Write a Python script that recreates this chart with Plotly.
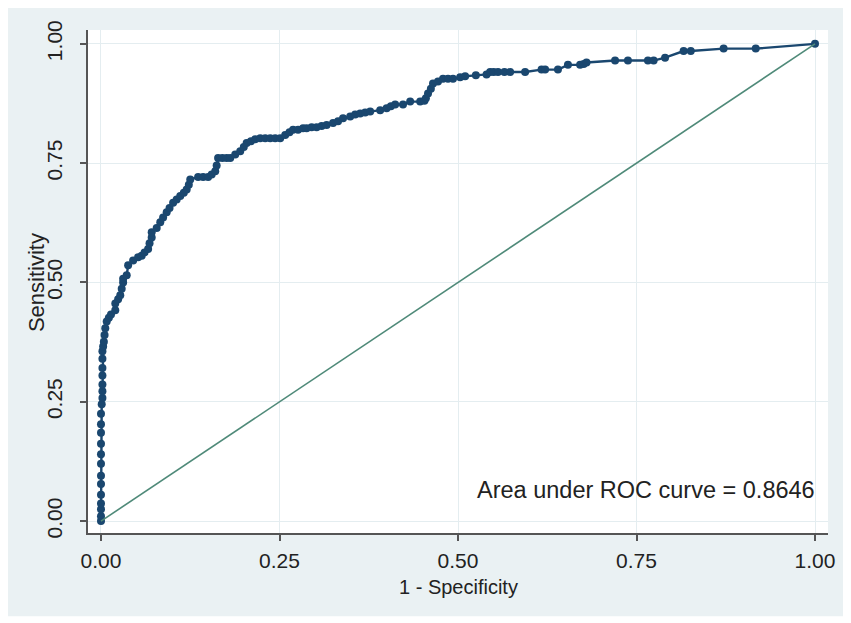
#!/usr/bin/env python3
"""ROC curve (Stata-style) redrawn with Plotly."""

import plotly.graph_objects as go

# -----------------------------------------------------------------------------
# Data
# -----------------------------------------------------------------------------

FPR = [
    0.000, 0.000, 0.000, 0.000, 0.000, 0.000, 0.000, 0.000, 0.000, 0.000,
    0.000, 0.000, 0.000, 0.001, 0.002, 0.002, 0.002, 0.002, 0.002, 0.002,
    0.002, 0.003, 0.004, 0.005, 0.006, 0.008, 0.011, 0.014, 0.020, 0.020,
    0.024, 0.027, 0.029, 0.031, 0.031, 0.036, 0.038, 0.045, 0.052, 0.057,
    0.061, 0.066, 0.068, 0.071, 0.071, 0.078, 0.083, 0.087, 0.092, 0.096,
    0.101, 0.106, 0.111, 0.116, 0.120, 0.123, 0.125, 0.136, 0.143, 0.150,
    0.155, 0.160, 0.162, 0.164, 0.170, 0.176, 0.181, 0.188, 0.195, 0.200,
    0.204, 0.210, 0.216, 0.223, 0.230, 0.237, 0.244, 0.251, 0.258, 0.264,
    0.269, 0.276, 0.283, 0.288, 0.295, 0.302, 0.309, 0.316, 0.325, 0.332,
    0.339, 0.349, 0.356, 0.363, 0.370, 0.377, 0.391, 0.400, 0.406, 0.412,
    0.423, 0.433, 0.447, 0.453, 0.455, 0.458, 0.462, 0.465, 0.472, 0.479,
    0.486, 0.493, 0.503, 0.510, 0.525, 0.540, 0.545, 0.550, 0.556, 0.565,
    0.573, 0.594, 0.617, 0.622, 0.640, 0.654, 0.671, 0.676, 0.680, 0.720,
    0.738, 0.766, 0.774, 0.790, 0.816, 0.826, 0.872, 0.917, 1.000,
]
TPR = [
    0.000, 0.010, 0.025, 0.037, 0.055, 0.078, 0.095, 0.120, 0.140, 0.162,
    0.185, 0.203, 0.225, 0.245, 0.258, 0.272, 0.286, 0.305, 0.321, 0.340,
    0.356, 0.366, 0.376, 0.390, 0.404, 0.418, 0.426, 0.433, 0.442, 0.456,
    0.465, 0.473, 0.487, 0.500, 0.508, 0.515, 0.536, 0.546, 0.553, 0.556,
    0.563, 0.570, 0.582, 0.594, 0.605, 0.614, 0.626, 0.636, 0.647, 0.656,
    0.667, 0.674, 0.681, 0.688, 0.695, 0.705, 0.716, 0.721, 0.721, 0.721,
    0.726, 0.733, 0.745, 0.761, 0.761, 0.761, 0.761, 0.768, 0.775, 0.784,
    0.792, 0.796, 0.800, 0.802, 0.802, 0.802, 0.802, 0.802, 0.809, 0.815,
    0.820, 0.820, 0.823, 0.823, 0.825, 0.825, 0.828, 0.830, 0.834, 0.838,
    0.844, 0.848, 0.852, 0.854, 0.856, 0.858, 0.861, 0.865, 0.869, 0.873,
    0.873, 0.879, 0.879, 0.881, 0.886, 0.896, 0.906, 0.917, 0.921, 0.927,
    0.927, 0.927, 0.930, 0.932, 0.934, 0.936, 0.941, 0.941, 0.941, 0.941,
    0.941, 0.941, 0.946, 0.946, 0.946, 0.956, 0.956, 0.958, 0.961, 0.965,
    0.965, 0.965, 0.965, 0.971, 0.985, 0.985, 0.990, 0.990, 1.000,
]

REF_X = [0.0, 1.0]
REF_Y = [0.0, 1.0]

TICK_VALS = [0.0, 0.25, 0.5, 0.75, 1.0]
TICK_TEXT = ["0.00", "0.25", "0.50", "0.75", "1.00"]

AUC_LABEL = "Area under ROC curve = 0.8646"

# -----------------------------------------------------------------------------
# Styling
# -----------------------------------------------------------------------------

FONT = "Liberation Sans, Arial, sans-serif"
BG = "#eaf1f3"
GRID = "#e4edf0"
NAVY = "#1a476f"
TEAL = "#4f8a79"
AXIS = "#555555"
TEXT = "#222222"

fig = go.Figure()
fig.add_trace(
    go.Scatter(
        x=FPR,
        y=TPR,
        mode="lines+markers",
        line=dict(color=NAVY, width=2.4),
        marker=dict(color=NAVY, size=8),
        name="ROC",
    )
)
fig.add_trace(
    go.Scatter(
        x=REF_X,
        y=REF_Y,
        mode="lines",
        line=dict(color=TEAL, width=1.6),
        name="Reference",
    )
)

axis_common = dict(
    tickvals=TICK_VALS,
    ticktext=TICK_TEXT,
    showgrid=True,
    gridcolor=GRID,
    gridwidth=1.2,
    zeroline=False,
    showline=True,
    linecolor=AXIS,
    linewidth=1.5,
    ticks="outside",
    ticklen=6,
    tickwidth=1.5,
    tickcolor=AXIS,
    tickfont=dict(family=FONT, size=21, color=TEXT),
)
fig.update_xaxes(range=[-0.0182, 1.0182], ticklabelstandoff=2, **axis_common)
fig.update_yaxes(range=[-0.0249, 1.029], tickangle=-90, ticklabelstandoff=10, **axis_common)

# thin white frame round the grey background (right and bottom edges)
white_strips = [
    dict(x0=1.027, x1=1.04, y0=-0.19, y1=1.04),
    dict(x0=-0.12, x1=1.04, y0=-0.19, y1=-0.1657),
]

fig.update_layout(
    width=843,
    height=615,
    margin=dict(l=80, r=23, t=18, b=90),
    paper_bgcolor=BG,
    plot_bgcolor="white",
    showlegend=False,
    font=dict(family=FONT, color=TEXT),
    shapes=[
        dict(
            type="rect",
            xref="paper",
            yref="paper",
            fillcolor="white",
            line=dict(width=0),
            layer="below",
            **s,
        )
        for s in white_strips
    ],
    annotations=[
        dict(
            text=AUC_LABEL,
            x=1.003,
            y=0.0645,
            xref="x",
            yref="y",
            xanchor="right",
            yanchor="middle",
            showarrow=False,
            font=dict(family=FONT, size=23.5, color=TEXT),
        ),
        dict(
            text="1 - Specificity",
            x=0.5,
            y=-0.1065,
            xref="paper",
            yref="paper",
            xanchor="center",
            yanchor="middle",
            showarrow=False,
            font=dict(family=FONT, size=20, color=TEXT),
        ),
        dict(
            text="Sensitivity",
            x=-0.0695,
            y=0.498,
            xref="paper",
            yref="paper",
            xanchor="center",
            yanchor="middle",
            textangle=-90,
            showarrow=False,
            font=dict(family=FONT, size=22, color=TEXT),
        ),
    ],
)

fig.write_html("out.html")
